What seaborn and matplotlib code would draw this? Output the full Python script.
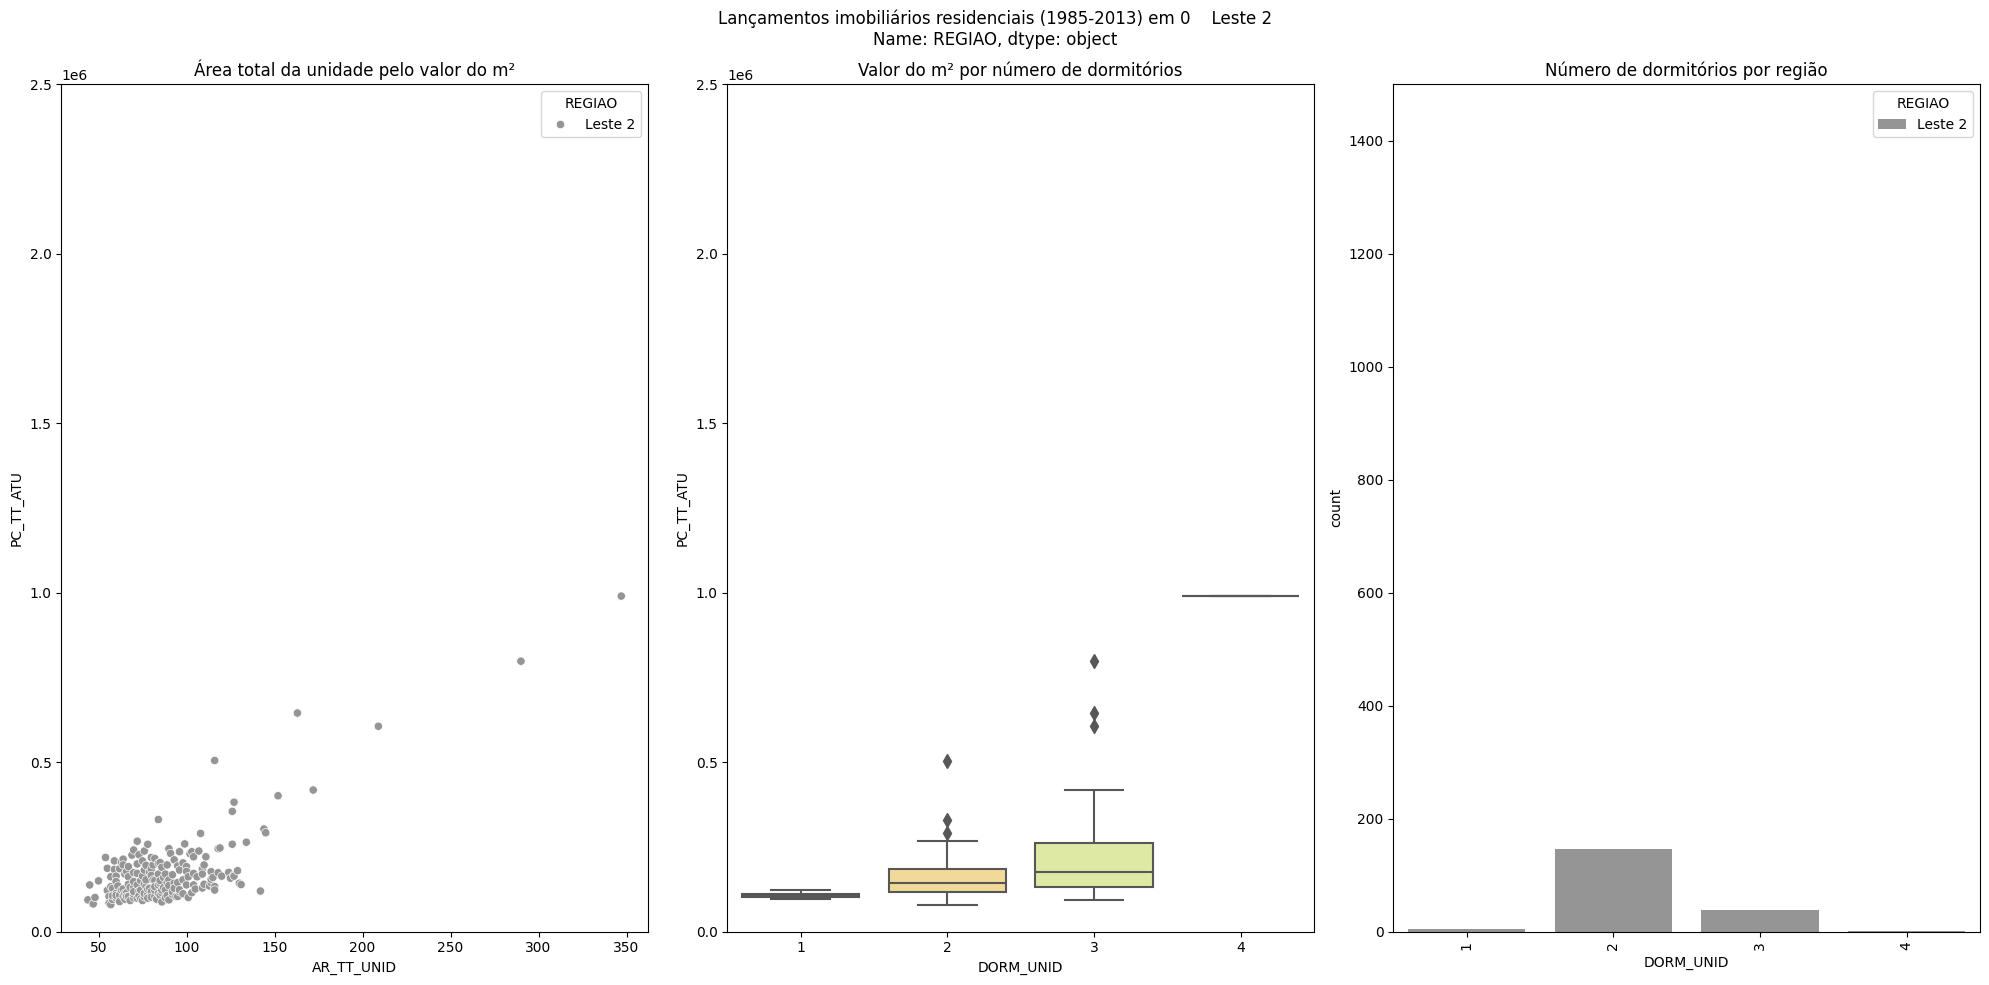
import pandas as pd
import matplotlib
matplotlib.use('Agg')
import matplotlib.pyplot as plt
import seaborn as sns

regiao = 'Leste 2'

# dormitorios 4
area_d4 = [347]
preco_d4 = [990]

# dormitorios 3
area_d3 = [290, 163, 209, 172, 152, 127, 126, 144, 145, 134,
           126, 119, 118, 107, 103, 111, 110, 109, 129, 114,
           124, 118, 127, 127, 120, 125, 114, 130, 131, 116,
           142, 96, 84, 94, 89, 101, 82, 92, 44]
preco_d3 = [798, 645, 606, 418, 401, 382, 355, 303, 292, 264,
            258, 247, 245, 238, 236, 221, 197, 184, 180, 177,
            175, 174, 167, 164, 164, 158, 145, 143, 139, 123,
            120, 118, 113, 104, 107, 101, 104, 118, 94]

# dormitorios 1
area_d1 = [55, 56, 60, 74]
preco_d1 = [122, 104, 107, 97]

# dormitorios 2
area_d2 = [116, 84, 108, 72, 78, 99, 90, 91, 96, 104,
           70, 76, 73, 69, 54, 59, 64, 64, 55, 59,
           57, 60, 62, 75, 80, 82, 85, 81, 80, 84,
           89, 95, 96, 100, 104, 109, 70, 72, 76, 75,
           70, 74, 77, 81, 84, 85, 88, 90, 93, 95,
           98, 100, 104, 109, 115, 116, 114, 86, 80, 77,
           74, 70, 67, 65, 63, 62, 57, 56, 57, 48,
           45, 47, 50, 72, 78, 66, 68, 72, 88, 82,
           85, 89, 101, 106, 113, 80, 82, 60, 65, 67,
           60, 58, 64, 70, 76, 78, 86,
           60, 62, 65, 68, 70, 73, 75, 78, 80, 83,
           85, 88, 90, 92, 95, 98, 103, 66, 58, 76,
           86, 58, 61, 64, 67, 70, 73, 76, 79, 82,
           84, 87, 90, 93, 96, 105, 110, 66, 79, 87,
           92, 100, 63, 67, 72, 77, 86, 93, 98, 102]
preco_d2 = [505, 331, 290, 267, 258, 259, 245, 231, 236, 221,
            241, 238, 227, 226, 219, 209, 214, 197, 187, 184,
            162, 164, 186, 209, 219, 216, 204, 197, 185, 202,
            197, 194, 182, 192, 172, 170, 174, 172, 182, 164,
            148, 151, 153, 153, 170, 151, 170, 153, 143, 145,
            153, 138, 138, 129, 160, 133, 155, 88, 118, 133,
            123, 111, 104, 113, 123, 89, 133, 84, 80, 101,
            138, 82, 150, 99, 99, 104, 131, 138, 123, 133,
            143, 145, 162, 162, 135, 166, 151, 148, 170, 162,
            113, 106, 104, 118, 113, 125, 123,
            100, 108, 96, 92, 100, 106, 92, 110, 102, 96,
            108, 100, 94, 110, 104, 112, 115, 115, 95, 103,
            115, 128, 135, 126, 140, 130, 120, 140, 128, 122,
            138, 130, 136, 128, 124, 126, 140, 178, 176, 160,
            168, 178, 205, 192, 200, 196, 190, 212, 203, 230]

dorm_order = ['1', '2', '3', '4']

df = pd.DataFrame({
    'AR_TT_UNID': area_d4 + area_d3 + area_d1 + area_d2,
    'PC_TT_ATU': [p * 1000 for p in preco_d4 + preco_d3 + preco_d1 + preco_d2],
    'DORM_UNID': ['4'] * len(area_d4) + ['3'] * len(area_d3) + ['1'] * len(area_d1) + ['2'] * len(area_d2),
})
df['REGIAO'] = regiao
df = df.sort_values('AR_TT_UNID').reset_index(drop=True)

fig, axes = plt.subplots(1, 3, figsize=(20, 10), dpi=100)

sns.scatterplot(data=df, x='AR_TT_UNID', y='PC_TT_ATU', hue='REGIAO', palette='Greys', ax=axes[0])
axes[0].set_ylim(0, 2.5e6)
axes[0].set_title('Área total da unidade pelo valor do m²')
axes[0].legend(title='REGIAO', loc='upper right')

sns.boxplot(data=df, x='DORM_UNID', y='PC_TT_ATU', hue='DORM_UNID', order=dorm_order,
            hue_order=dorm_order, palette='Spectral', legend=False, ax=axes[1],
            linecolor='#575757', linewidth=1.5,
            flierprops={'marker': 'd', 'markerfacecolor': '#575757', 'markeredgecolor': '#575757',
                        'markersize': 7})
axes[1].set_ylim(0, 2.5e6)
axes[1].set_title('Valor do m² por número de dormitórios')

sns.countplot(data=df, x='DORM_UNID', hue='REGIAO', order=dorm_order, palette='Greys', ax=axes[2])
axes[2].set_ylim(0, 1500)
axes[2].set_title('Número de dormitórios por região')
axes[2].tick_params(axis='x', rotation=90)
axes[2].legend(title='REGIAO', loc='upper right')

fig.suptitle('Lançamentos imobiliários residenciais (1985-2013) em 0    Leste 2\nName: REGIAO, dtype: object')
plt.tight_layout()
plt.savefig('out.png', bbox_inches='tight')
